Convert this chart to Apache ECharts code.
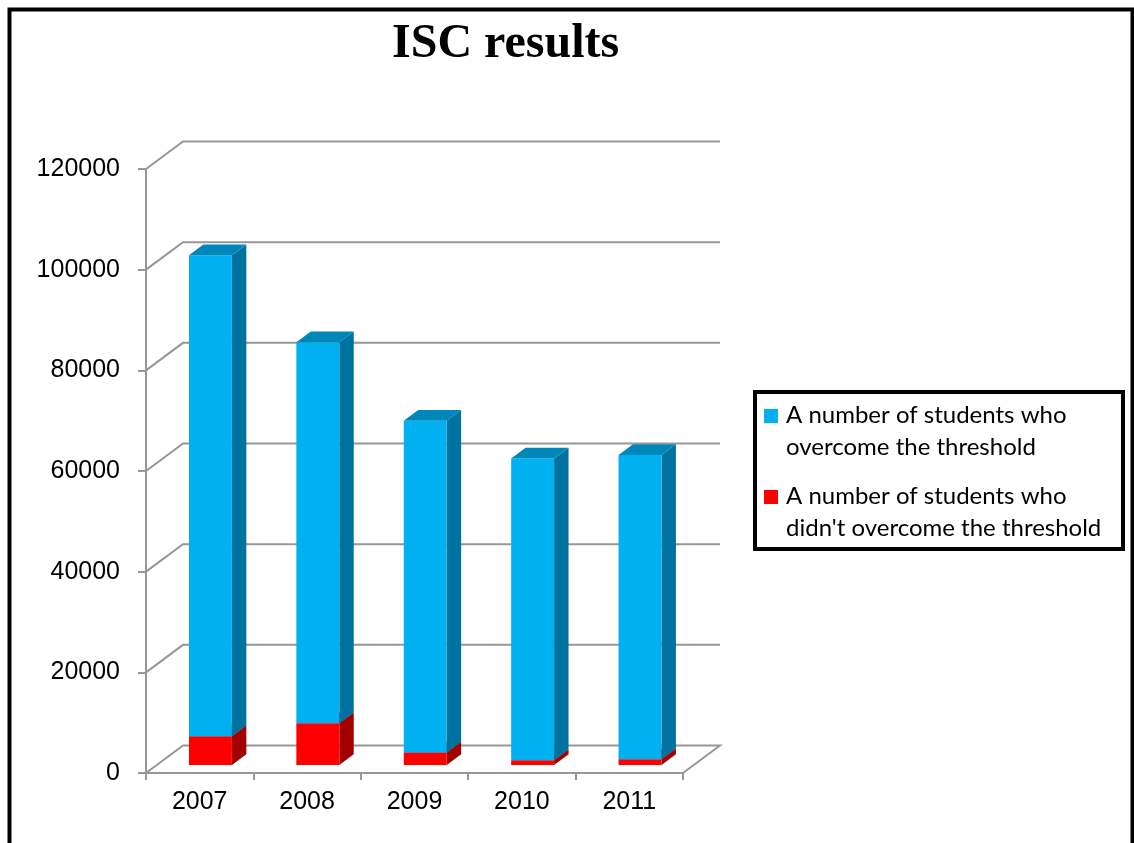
<!DOCTYPE html>
<html>
<head>
<meta charset="utf-8">
<script src="https://cdn.jsdelivr.net/npm/echarts@6/dist/echarts.min.js"></script>
<style>
html,body{margin:0;padding:0;background:#fff;}
#chart{width:1134px;height:843px;}
</style>
</head>
<body>
<div id="chart"></div>
<script>
// ---- data ----
const categories = ['2007', '2008', '2009', '2010', '2011'];
const overcome = [95600, 75700, 65900, 59950, 60450];      // blue segment
const notOvercome = [5700, 8300, 2500, 950, 1150];          // red segment
const yTicks = [0, 20000, 40000, 60000, 80000, 100000, 120000];
const nameOvercome = 'A number of students who\novercome the threshold';
const nameNot = "A number of students who\ndidn't overcome the threshold";

// ---- pseudo-3D projection settings ----
const DX = 37, DY = 27.5;     // full depth offset of the back wall
const F0 = 0.29, F1 = 0.39;   // bar front-face depth, bar depth
const GRID_COLOR = '#979797';

const chart = echarts.init(document.getElementById('chart'), null, {renderer: 'canvas'});

function gridRender(params, api) {
  const cs = params.coordSys;
  const v = api.value(1);
  const y = api.coord([0, v])[1];
  const x0 = cs.x, x1 = cs.x + cs.width;
  const pts = [[x0, y], [x0 + DX, y - DY], [x1 + DX, y - DY]];
  if (v === yTicks[0]) pts.push([x1, y]);
  return {
    type: 'polyline',
    shape: {points: pts},
    style: {stroke: GRID_COLOR, lineWidth: 2, fill: null}
  };
}

function barRender(colors, drawTop) {
  return function (params, api) {
    const i = api.value(0);
    const pb = api.coord([i, api.value(1)]);
    const pt = api.coord([i, api.value(2)]);
    const band = api.size([1, 0])[0];
    const w = band * 0.4;
    const xl = pb[0] + DX * F0 - w / 2;
    const xr = xl + w;
    const yb = pb[1] - DY * F0;
    const yt = pt[1] - DY * F0;
    const dx = DX * F1, dy = DY * F1;
    const children = [
      {type: 'polygon', shape: {points: [[xr, yt], [xr + dx, yt - dy], [xr + dx, yb - dy], [xr, yb]]},
        style: {fill: colors.side}},
      {type: 'rect', shape: {x: xl, y: yt, width: w, height: yb - yt},
        style: {fill: colors.front}}
    ];
    if (drawTop) {
      children.push({type: 'polygon', shape: {points: [[xl, yt], [xr, yt], [xr + dx, yt - dy], [xl + dx, yt - dy]]},
        style: {fill: colors.top}});
    }
    return {type: 'group', children: children};
  };
}

const redData = categories.map((c, i) => [i, 0, notOvercome[i]]);
const blueData = categories.map((c, i) => [i, notOvercome[i], notOvercome[i] + overcome[i]]);

const option = {
  animation: false,
  backgroundColor: '#ffffff',
  title: {
    text: 'ISC results',
    left: 392,
    top: 21,
    padding: 0,
    textStyle: {fontFamily: 'Liberation Serif', fontWeight: 'bold', fontSize: 48, color: '#000'}
  },
  graphic: [
    {type: 'rect', shape: {x: 9.5, y: 9.5, width: 1123, height: 900},
      style: {fill: null, stroke: '#000', lineWidth: 4}, silent: true, z: 100}
  ],
  legend: {
    orient: 'vertical',
    left: 755,
    top: 392,
    padding: [7, 9, 5, 9],
    itemGap: 17,
    itemWidth: 14,
    itemHeight: 64,
    icon: 'path://M0,0L0.01,0M0,10h14v14h-14zM0,64L0.01,64',
    borderColor: '#000',
    borderWidth: 4,
    selectedMode: false,
    data: [nameOvercome, nameNot],
    itemStyle: {borderWidth: 0},
    textStyle: {fontFamily: 'Lato', fontSize: 24, lineHeight: 32, color: '#000', width: 328, padding: [0, 0, 0, 3]}
  },
  grid: {left: 146, top: 169, width: 537, height: 604},
  xAxis: {
    type: 'category',
    data: categories,
    boundaryGap: true,
    axisLine: {lineStyle: {color: GRID_COLOR, width: 2}},
    axisTick: {show: true, length: 7, lineStyle: {color: GRID_COLOR, width: 2}},
    axisLabel: {fontFamily: 'Liberation Sans', fontSize: 25, color: '#000', margin: 17},
    splitLine: {show: false}
  },
  yAxis: {
    type: 'value',
    min: 0,
    max: 120000,
    interval: 20000,
    axisLine: {show: true, lineStyle: {color: GRID_COLOR, width: 2}},
    axisTick: {show: true, length: 8, lineStyle: {color: GRID_COLOR, width: 2}},
    axisLabel: {fontFamily: 'Liberation Sans', fontSize: 25, color: '#000', margin: 26,
      formatter: v => String(v)},
    splitLine: {show: false}
  },
  series: [
    {
      type: 'custom',
      name: 'grid3d',
      silent: true,
      z: 1,
      renderItem: gridRender,
      encode: {x: 0, y: 1},
      data: yTicks.map(v => [0, v])
    },
    {
      type: 'custom',
      name: nameNot,
      z: 2,
      itemStyle: {color: '#FF0000'},
      renderItem: barRender({front: '#FF0000', side: '#A20000', top: '#CC0000'}, true),
      encode: {x: 0, y: [1, 2]},
      data: redData
    },
    {
      type: 'custom',
      name: nameOvercome,
      z: 3,
      itemStyle: {color: '#00B0F0'},
      renderItem: barRender({front: '#00B0F0', side: '#00729F', top: '#0087BA'}, true),
      encode: {x: 0, y: [1, 2]},
      data: blueData
    }
  ]
};
chart.setOption(option);
</script>
</body>
</html>
